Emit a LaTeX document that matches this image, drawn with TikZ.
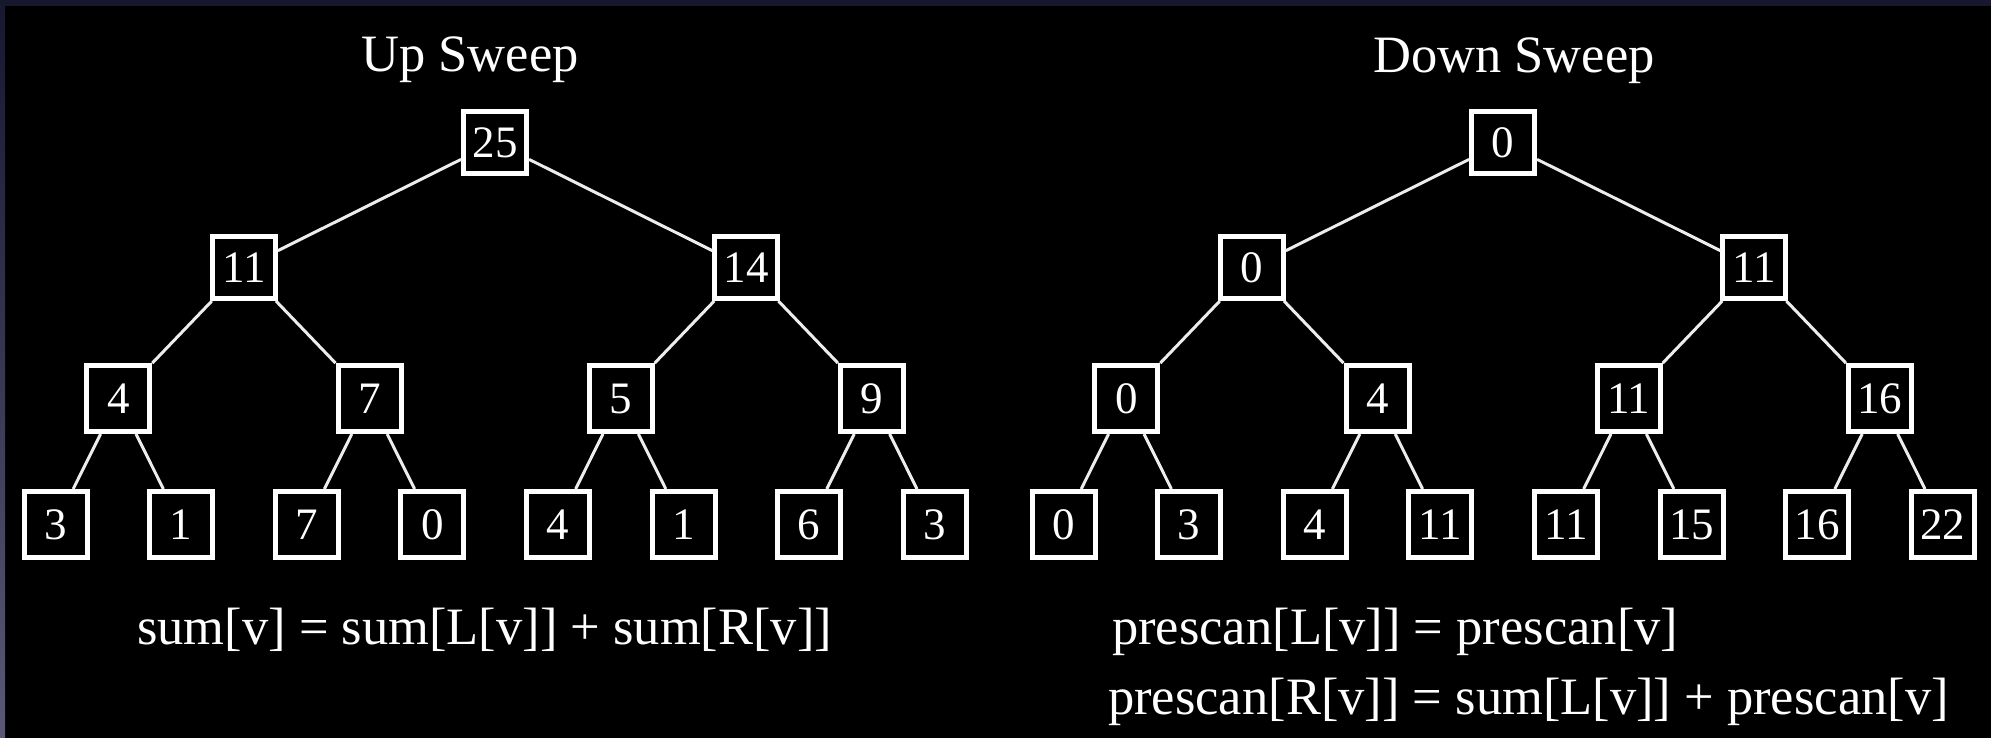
\documentclass[tikz,border=0pt]{standalone}
\usepackage{fontspec}
\setmainfont{Liberation Serif}
\definecolor{framenavy}{HTML}{17172E}
\definecolor{framegray}{HTML}{5A5874}
\definecolor{edgewhite}{HTML}{EDEDED}
\begin{document}
\begin{tikzpicture}[x=1pt,y=-1pt,
  box/.style={draw=white, line width=5pt, fill=black, text=white, inner sep=0pt,
    minimum width=63pt, minimum height=62pt, font=\fontsize{45}{54}\selectfont},
  tallbox/.style={box, minimum height=66pt},
  edge/.style={draw=edgewhite, line width=3pt},
  txt/.style={text=white, font=\fontsize{52.5}{63}\selectfont, inner sep=0pt}]
\useasboundingbox (0,0) rectangle (1991,738);
\fill[black] (0,0) rectangle (1991,738);
\fill[framenavy] (0,0) rectangle (1991,6);
\shade[top color=framenavy, bottom color=framegray] (0,0) rectangle (5,738);

% titles
\node[txt, anchor=base] (uptitle) at (470,72) {Up Sweep};
\node[txt, anchor=base] (dntitle) at (1514,73) {Down Sweep};

% ---------- Up sweep tree ----------
\node[box] (u0) at (495.1,142.5) {25};
\node[box] (u1a) at (243.9,267.5) {11};
\node[box] (u1b) at (746.3,267.5) {14};
\node[tallbox] (u2a) at (118.3,398.5) {4};
\node[tallbox] (u2b) at (369.5,398.5) {7};
\node[tallbox] (u2c) at (620.7,398.5) {5};
\node[tallbox] (u2d) at (871.9,398.5) {9};
\node[tallbox] (u3a) at (55.5,524.5) {3};
\node[tallbox] (u3b) at (181.1,524.5) {1};
\node[tallbox] (u3c) at (306.7,524.5) {7};
\node[tallbox] (u3d) at (432.3,524.5) {0};
\node[tallbox] (u3e) at (557.9,524.5) {4};
\node[tallbox] (u3f) at (683.5,524.5) {1};
\node[tallbox] (u3g) at (809.1,524.5) {6};
\node[tallbox] (u3h) at (934.7,524.5) {3};

\draw[edge] (u0) -- (u1a);
\draw[edge] (u0) -- (u1b);
\draw[edge] (u1a) -- (u2a);
\draw[edge] (u1a) -- (u2b);
\draw[edge] (u1b) -- (u2c);
\draw[edge] (u1b) -- (u2d);
\draw[edge] (u2a) -- (u3a);
\draw[edge] (u2a) -- (u3b);
\draw[edge] (u2b) -- (u3c);
\draw[edge] (u2b) -- (u3d);
\draw[edge] (u2c) -- (u3e);
\draw[edge] (u2c) -- (u3f);
\draw[edge] (u2d) -- (u3g);
\draw[edge] (u2d) -- (u3h);

% ---------- Down sweep tree ----------
\node[box] (d0) at (1503.1,142.5) {0};
\node[box] (d1a) at (1251.9,267.5) {0};
\node[box] (d1b) at (1754.3,267.5) {11};
\node[tallbox] (d2a) at (1126.3,398.5) {0};
\node[tallbox] (d2b) at (1377.5,398.5) {4};
\node[tallbox] (d2c) at (1628.7,398.5) {11};
\node[tallbox] (d2d) at (1879.9,398.5) {16};
\node[tallbox] (d3a) at (1063.5,524.5) {0};
\node[tallbox] (d3b) at (1189.1,524.5) {3};
\node[tallbox] (d3c) at (1314.7,524.5) {4};
\node[tallbox] (d3d) at (1440.3,524.5) {11};
\node[tallbox] (d3e) at (1565.9,524.5) {11};
\node[tallbox] (d3f) at (1691.5,524.5) {15};
\node[tallbox] (d3g) at (1817.1,524.5) {16};
\node[tallbox] (d3h) at (1942.7,524.5) {22};

\draw[edge] (d0) -- (d1a);
\draw[edge] (d0) -- (d1b);
\draw[edge] (d1a) -- (d2a);
\draw[edge] (d1a) -- (d2b);
\draw[edge] (d1b) -- (d2c);
\draw[edge] (d1b) -- (d2d);
\draw[edge] (d2a) -- (d3a);
\draw[edge] (d2a) -- (d3b);
\draw[edge] (d2b) -- (d3c);
\draw[edge] (d2b) -- (d3d);
\draw[edge] (d2c) -- (d3e);
\draw[edge] (d2c) -- (d3f);
\draw[edge] (d2d) -- (d3g);
\draw[edge] (d2d) -- (d3h);

% ---------- formulas ----------
\node[txt, anchor=base west] (upeq) at (137,644) {sum[v] = sum[L[v]] + sum[R[v]]};
\node[txt, anchor=base west] (dneqa) at (1112,644) {prescan[L[v]] = prescan[v]};
\node[txt, anchor=base west] (dneqb) at (1108,714) {prescan[R[v]] = sum[L[v]] + prescan[v]};
\end{tikzpicture}
\end{document}
